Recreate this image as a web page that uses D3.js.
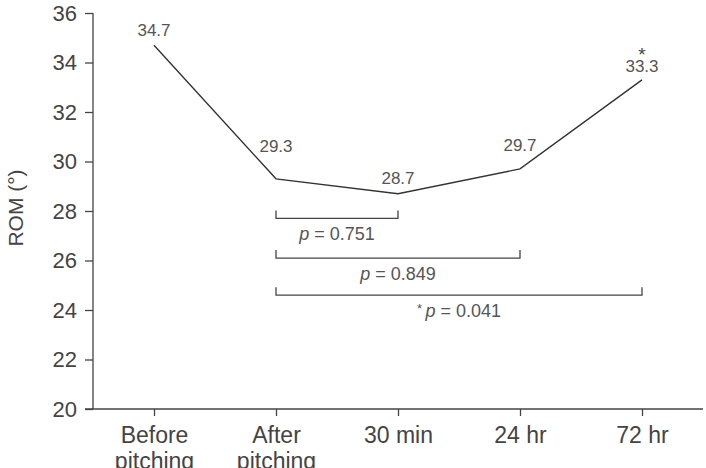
<!DOCTYPE html>
<html>
<head>
<meta charset="utf-8">
<script src="https://cdn.jsdelivr.net/npm/d3@7"></script>
<style>
  body { margin: 0; background: #fff; }
  svg { font-family: Arial, "Liberation Sans", sans-serif; }
</style>
</head>
<body>
<svg id="chart"></svg>
<script>
// chart data
const categories = ['Before|pitching', 'After|pitching', '30 min', '24 hr', '72 hr'];
const romValues = [34.7, 29.3, 28.7, 29.7, 33.3];
const starred = [false, false, false, false, true];
const yTicks = [20, 22, 24, 26, 28, 30, 32, 34, 36];

// comparison brackets (from "After pitching")
const bracketEnds = ['30 min', '24 hr', '72 hr'];
const bracketLevels = [27.7, 26.1, 24.6];
const bracketLabels = ['0.751', '0.849', '0.041'];
const bracketStar = [false, false, true];

// how far above each point its value label sits (px)
const labelLift = [9, 27, 10, 18, 8];

let width = 706;
let height = 468;
let plotLeft = 93;
let plotRight = 703;
let plotTop = 13;
let plotBottom = 409;

let svg = d3.select('#chart')
    .attr('width', width)
    .attr('height', height);

let xScale = d3.scalePoint()
    .domain(categories)
    .range([plotLeft, plotRight])
    .padding(0.5);

let yScale = d3.scaleLinear()
    .domain([20, 36])
    .range([plotBottom, plotTop]);

// y axis
let yAxis = d3.axisLeft(yScale)
    .tickValues(yTicks)
    .tickSize(8)
    .tickPadding(8);

let gy = svg.append('g')
    .attr('transform', 'translate(' + plotLeft + ',0)')
    .call(yAxis);
gy.select('.domain').attr('d', 'M0,' + plotTop + 'V' + plotBottom);
gy.selectAll('line, path').attr('stroke', '#444').attr('stroke-width', 1.3);
gy.selectAll('text').attr('font-size', 22).attr('fill', '#444');

// x axis
let xAxis = d3.axisBottom(xScale)
    .tickSize(7)
    .tickFormat(() => '');

let gx = svg.append('g')
    .attr('transform', 'translate(0,' + plotBottom + ')')
    .call(xAxis);
gx.select('.domain').attr('d', 'M' + (plotLeft - 8) + ',0H' + plotRight);
gx.selectAll('line, path').attr('stroke', '#444').attr('stroke-width', 1.3);

// two-line category labels
gx.selectAll('.tick').each(function (d) {
    let parts = d.split('|');
    let t = d3.select(this).append('text')
        .attr('fill', '#444')
        .attr('font-size', 23)
        .attr('text-anchor', 'middle');
    parts.forEach((p, i) => {
        t.append('tspan')
            .attr('x', 0)
            .attr('y', 34 + i * 26)
            .text(p);
    });
});

// y axis title
svg.append('text')
    .attr('transform', 'translate(23,208) rotate(-90)')
    .attr('text-anchor', 'middle')
    .attr('font-size', 21)
    .attr('fill', '#444')
    .text('ROM (°)');

// the line
let line = d3.line()
    .x((d, i) => xScale(categories[i]))
    .y((d) => yScale(d));

svg.append('path')
    .datum(romValues)
    .attr('fill', 'none')
    .attr('stroke', '#333')
    .attr('stroke-width', 1.4)
    .attr('d', line);

// value labels
svg.selectAll('.val')
    .data(romValues)
    .enter()
    .append('text')
    .attr('class', 'val')
    .attr('x', (d, i) => xScale(categories[i]))
    .attr('y', (d, i) => yScale(d) - labelLift[i])
    .attr('text-anchor', 'middle')
    .attr('font-size', 17)
    .attr('fill', '#555')
    .text((d) => d.toFixed(1));

svg.selectAll('.star')
    .data(romValues.filter((d, i) => starred[i]))
    .enter()
    .append('text')
    .attr('x', xScale(categories[romValues.length - 1]))
    .attr('y', (d) => yScale(d) - 19)
    .attr('text-anchor', 'middle')
    .attr('font-size', 19)
    .attr('fill', '#444')
    .text('*');

// brackets
let x0 = xScale(categories[1]);
bracketEnds.forEach((end, i) => {
    let x1 = xScale(end);
    let y = yScale(bracketLevels[i]);
    svg.append('path')
        .attr('d', 'M' + x0 + ',' + (y - 8) + 'V' + y + 'H' + x1 + 'V' + (y - 8))
        .attr('fill', 'none')
        .attr('stroke', '#444')
        .attr('stroke-width', 1.3);

    let t = svg.append('text')
        .attr('x', (x0 + x1) / 2)
        .attr('y', y + 22)
        .attr('text-anchor', 'middle')
        .attr('font-size', 18)
        .attr('fill', '#555');
    if (bracketStar[i]) {
        t.append('tspan').attr('font-size', 13).attr('dy', -4).text('* ');
        t.append('tspan').attr('font-style', 'italic').attr('dy', 4).text('p');
    } else {
        t.append('tspan').attr('font-style', 'italic').text('p');
    }
    t.append('tspan').text(' = ' + bracketLabels[i]);
});
</script>
</body>
</html>
